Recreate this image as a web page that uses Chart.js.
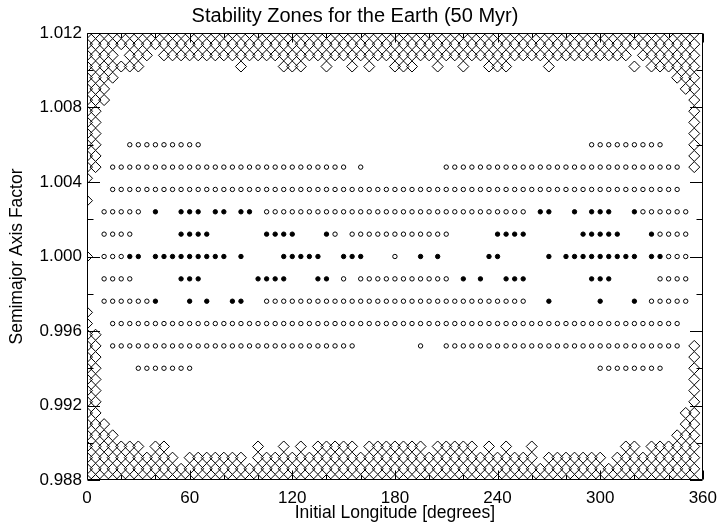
<!DOCTYPE html>
<html>
<head>
<meta charset="utf-8">
<title>Stability Zones for the Earth (50 Myr)</title>
<script src="https://cdn.jsdelivr.net/npm/chart.js@4.4.1/dist/chart.umd.min.js"></script>
<style>
  html, body { margin: 0; padding: 0; background: #fff; }
  #wrap { width: 725px; height: 524px; }
</style>
</head>
<body>
<div id="wrap"><canvas id="stabilityChart" width="725" height="524"></canvas></div>
<script>
// Initial longitudes of the test orbits (degrees)
const longitudes = [0, 5, 10, 15, 20, 25, 30, 35, 40, 45, 50, 55, 60, 65, 70, 75, 80, 85,
  90, 95, 100, 105, 110, 115, 120, 125, 130, 135, 140, 145, 150, 155, 160, 165, 170, 175,
  180, 185, 190, 195, 200, 205, 210, 215, 220, 225, 230, 235, 240, 245, 250, 255, 260, 265,
  270, 275, 280, 285, 290, 295, 300, 305, 310, 315, 320, 325, 330, 335, 340, 345, 350, 355];

// Semimajor axis factors of the unstable (diamond) grid rows, top to bottom
const axisFactors = [1.0120, 1.0114, 1.0108, 1.0102, 1.0096, 1.0090, 1.0084, 1.0078, 1.0072,
  1.0066, 1.0060, 1.0054, 1.0048, 1.0042, 1.0036, 1.0030, 1.0024, 1.0018, 1.0012, 1.0006,
  1.0000, 0.9994, 0.9988, 0.9982, 0.9976, 0.9970, 0.9964, 0.9958, 0.9952, 0.9946, 0.9940,
  0.9934, 0.9928, 0.9922, 0.9916, 0.9910, 0.9904, 0.9898, 0.9892, 0.9886, 0.9880];

// Unstable orbits: longitude ranges [from, to] for each row of axisFactors
const unstableRanges = [
  [[0, 355]],
  [[0, 355]],
  [[0, 15], [25, 35], [45, 315], [325, 355]],
  [[0, 30], [90, 90], [115, 125], [140, 140], [155, 155], [165, 165], [180, 190], [205, 205],
   [220, 220], [235, 245], [270, 270], [320, 320], [330, 355]],
  [[0, 15], [345, 355]],
  [[0, 10], [350, 355]],
  [[0, 10], [355, 355]],
  [[0, 5], [355, 355]],
  [[0, 5], [355, 355]],
  [[0, 5], [355, 355]],
  [[0, 5], [355, 355]],
  [[0, 5], [355, 355]],
  [[0, 5], [355, 355]],
  [[0, 0]],
  [],
  [[0, 0]],
  [], [], [], [],
  [[0, 0]],
  [], [], [], [],
  [[0, 0]],
  [[0, 0]],
  [[0, 5]],
  [[0, 5], [355, 355]],
  [[0, 5], [355, 355]],
  [[0, 5], [355, 355]],
  [[0, 5], [355, 355]],
  [[0, 5], [355, 355]],
  [[0, 5], [355, 355]],
  [[0, 5], [350, 355]],
  [[0, 10], [350, 355]],
  [[0, 15], [345, 355]],
  [[0, 30], [40, 45], [100, 100], [115, 115], [125, 125], [135, 155], [165, 195], [205, 225],
   [235, 235], [245, 245], [260, 260], [315, 320], [330, 355]],
  [[0, 50], [60, 90], [100, 260], [270, 300], [310, 355]],
  [[0, 355]],
  [[0, 355]]
];

// Rows where stable orbits were tested
const circleFactors = [1.0060, 1.0048, 1.0036, 1.0024, 1.0012, 1.0000,
  0.9988, 0.9976, 0.9964, 0.9952, 0.9940];

// Stable orbits (open circles)
const stableRanges = [
  [[25, 65], [295, 335]],
  [[15, 150], [160, 160], [210, 345]],
  [[15, 345]],
  [[10, 30], [105, 255], [325, 350]],
  [[10, 25], [145, 145], [155, 210], [335, 350]],
  [[10, 20], [180, 180], [340, 350]],
  [[10, 25], [150, 150], [160, 210], [335, 350]],
  [[10, 35], [105, 255], [330, 350]],
  [[15, 345]],
  [[15, 155], [195, 195], [210, 345]],
  [[30, 60], [300, 335]]
];

// Most stable orbits (filled circles)
const mostStableRanges = [
  [],
  [],
  [],
  [[40, 40], [55, 65], [75, 80], [90, 95], [265, 270], [285, 285], [295, 305], [320, 320]],
  [[55, 70], [105, 120], [140, 140], [240, 255], [290, 310], [330, 330]],
  [[25, 30], [40, 80], [90, 90], [115, 135], [150, 160], [195, 195], [205, 205], [235, 240],
   [270, 270], [280, 320], [330, 335]],
  [[55, 65], [100, 115], [135, 140], [220, 220], [230, 230], [245, 255], [295, 305]],
  [[40, 40], [60, 60], [70, 70], [85, 90], [270, 270], [300, 300], [320, 320]],
  [],
  [],
  []
];

const FONT = "'Liberation Sans', Arial, Helvetica, sans-serif";

function expandRows(rows, factors) {
  const points = [];
  rows.forEach(function (ranges, i) {
    ranges.forEach(function (range) {
      longitudes.forEach(function (lon) {
        if (lon >= range[0] && lon <= range[1]) points.push({ x: lon, y: factors[i] });
      });
    });
  });
  return points;
}

// Box around the plot with inward major/minor ticks on all four sides
const frameAndTicks = {
  id: "frameAndTicks",
  afterDraw(chart) {
    const ctx = chart.ctx;
    const a = chart.chartArea;
    const xs = chart.scales.x;
    const ys = chart.scales.y;
    const L = Math.round(a.left) + 0.5;
    const R = Math.round(a.right) - 0.5;
    const T = Math.round(a.top) + 0.5;
    const B = Math.round(a.bottom) - 0.5;

    ctx.save();
    ctx.strokeStyle = "#000";
    ctx.lineWidth = 1;
    ctx.beginPath();
    ctx.rect(L, T, R - L, B - T);

    function vtick(v, len) {
      const px = Math.round(xs.getPixelForValue(v)) + 0.5;
      ctx.moveTo(px, B); ctx.lineTo(px, B - len);
      ctx.moveTo(px, T); ctx.lineTo(px, T + len);
    }
    function htick(v, len) {
      const py = Math.round(ys.getPixelForValue(v)) + 0.5;
      ctx.moveTo(L, py); ctx.lineTo(L + len, py);
      ctx.moveTo(R, py); ctx.lineTo(R - len, py);
    }

    const xt = xs.ticks.map(t => t.value);
    for (let i = 0; i < xt.length; i++) {
      vtick(xt[i], 9);
      if (i < xt.length - 1) {
        for (let k = 1; k < 3; k++) vtick(xt[i] + (xt[i + 1] - xt[i]) * k / 3, 4.5);
      }
    }
    const yt = ys.ticks.map(t => t.value);
    for (let i = 0; i < yt.length; i++) {
      htick(yt[i], 12.5);
      if (i < yt.length - 1) htick((yt[i] + yt[i + 1]) / 2, 6);
    }
    ctx.stroke();
    ctx.restore();
  }
};

const ctx = document.getElementById("stabilityChart");

new Chart(ctx, {
  type: "scatter",
  data: {
    datasets: [
      {
        label: "Unstable",
        data: expandRows(unstableRanges, axisFactors),
        pointStyle: "rectRot",
        pointRadius: 5.5,
        pointHoverRadius: 5.5,
        pointBorderWidth: 1,
        borderColor: "#000",
        backgroundColor: "rgba(0,0,0,0)",
        clip: 0,
      },
      {
        label: "Stable",
        data: expandRows(stableRanges, circleFactors),
        pointStyle: "circle",
        pointRadius: 2.2,
        pointHoverRadius: 2.2,
        pointBorderWidth: 1,
        borderColor: "#000",
        backgroundColor: "rgba(0,0,0,0)",
        clip: 0,
      },
      {
        label: "Most stable",
        data: expandRows(mostStableRanges, circleFactors),
        pointStyle: "circle",
        pointRadius: 2.2,
        pointHoverRadius: 2.2,
        pointBorderWidth: 1,
        borderColor: "#000",
        backgroundColor: "#000",
        clip: 0,
      },
    ],
  },
  options: {
    responsive: false,
    animation: false,
    events: [],
    devicePixelRatio: 1,
    layout: { padding: { left: 0, right: 15, top: 0, bottom: 0 } },
    plugins: {
      legend: { display: false },
      tooltip: { enabled: false },
      title: {
        display: true,
        text: "Stability Zones for the Earth (50 Myr)",
        color: "#000",
        font: { family: FONT, size: 20, weight: "normal" },
        padding: { top: 4, bottom: 5 },
      },
    },
    scales: {
      x: {
        type: "linear",
        min: 0,
        max: 360,
        grid: { display: false, drawTicks: false },
        border: { display: false },
        ticks: {
          stepSize: 60,
          color: "#000",
          padding: 8,
          maxRotation: 0,
          autoSkip: false,
          font: { family: FONT, size: 17 },
        },
        title: {
          display: true,
          text: "Initial Longitude [degrees]",
          color: "#000",
          font: { family: FONT, size: 17.5 },
          padding: { top: 0, bottom: 0 },
        },
        afterFit(scale) { scale.height = 44; },
      },
      y: {
        type: "linear",
        min: 0.988,
        max: 1.012,
        grid: { display: false, drawTicks: false },
        border: { display: false },
        ticks: {
          stepSize: 0.004,
          color: "#000",
          padding: 5,
          autoSkip: false,
          font: { family: FONT, size: 17 },
          callback: v => v.toFixed(3),
        },
        title: {
          display: true,
          text: "Semimajor Axis Factor",
          color: "#000",
          font: { family: FONT, size: 17.5 },
          padding: { top: 7, bottom: 0 },
        },
        afterFit(scale) { scale.width = 87; },
      },
    },
  },
  plugins: [frameAndTicks],
});
</script>
</body>
</html>
